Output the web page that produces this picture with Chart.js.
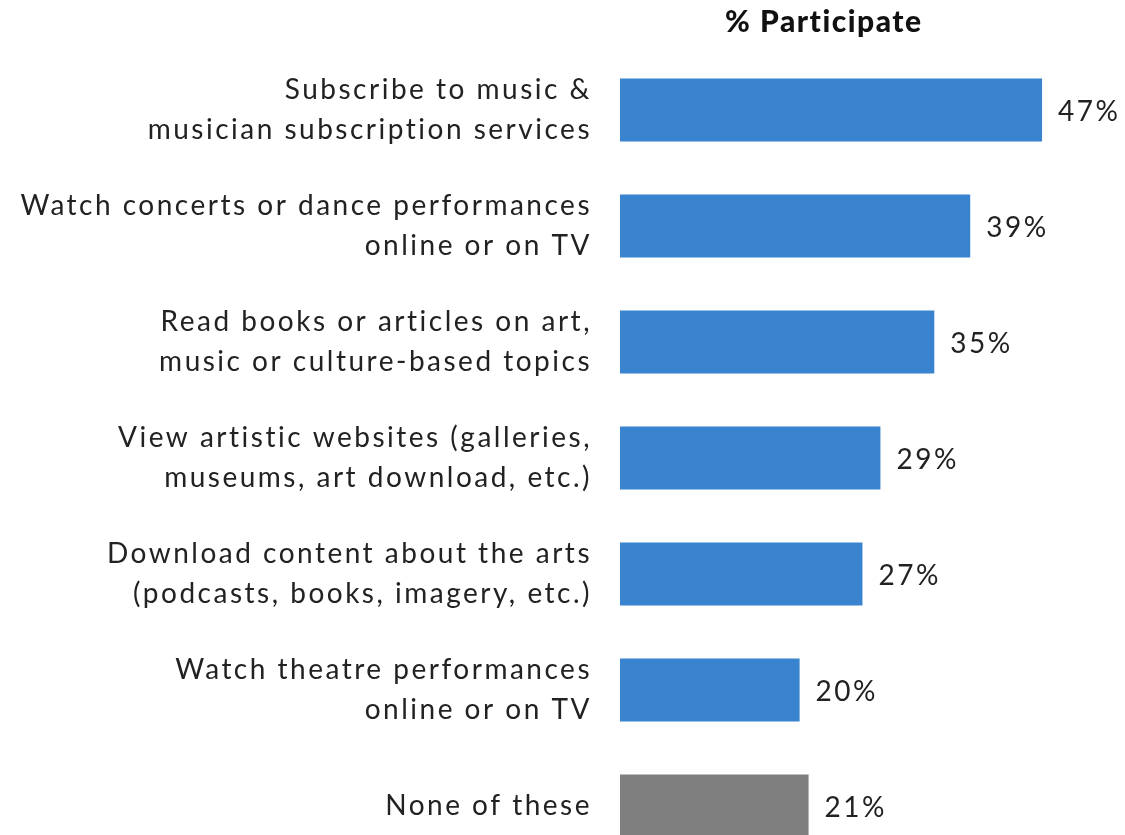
<!DOCTYPE html>
<html>
<head>
<meta charset="utf-8">
<script src="https://cdn.jsdelivr.net/npm/chart.js@4.4.0/dist/chart.umd.min.js"></script>
<style>
  html, body { margin: 0; padding: 0; background: #fff; overflow: hidden; }
  #wrap { width: 1125px; height: 864px; position: relative; }
</style>
</head>
<body>
<div id="wrap"><canvas id="chart"></canvas></div>
<script>
const categories = [
    ['Subscribe to music &', 'musician subscription services'],
    ['Watch concerts or dance performances', 'online or on TV'],
    ['Read books or articles on art,', 'music or culture-based topics'],
    ['View artistic websites (galleries,', 'museums, art download, etc.)'],
    ['Download content about the arts', '(podcasts, books, imagery, etc.)'],
    ['Watch theatre performances', 'online or on TV'],
    'None of these'
];
const participate = [47, 39, 35, 29, 27, 20, 21];
const barColors = ['#3983cf', '#3983cf', '#3983cf', '#3983cf', '#3983cf', '#3983cf', '#7f7f7f'];
const titleText = '% Participate';

const FONT = 'Lato, "Open Sans", sans-serif';
const SPACING = '2.5px';

// the canvas state is reset on resize, so reapply the wider tracking before each draw
const tracking = {
    id: 'tracking',
    beforeDraw(chart) {
        chart.ctx.letterSpacing = SPACING;
    }
};

// value labels to the right of each bar, plus the column header
const barLabels = {
    id: 'barLabels',
    afterDatasetsDraw(chart) {
        const ctx = chart.ctx;
        const meta = chart.getDatasetMeta(0);
        ctx.save();
        ctx.letterSpacing = SPACING;
        ctx.font = '28px ' + FONT;
        ctx.fillStyle = '#222';
        ctx.textAlign = 'left';
        ctx.textBaseline = 'middle';
        meta.data.forEach((bar, i) => {
            ctx.fillText(participate[i] + '%', bar.x + 16, bar.y + 2);
        });
        ctx.letterSpacing = '1.5px';
        ctx.font = '900 30px ' + FONT;
        ctx.fillStyle = '#111';
        ctx.textAlign = 'center';
        ctx.fillText(titleText, chart.scales.x.getPixelForValue(22.7), 22);
        ctx.restore();
    }
};

new Chart(document.getElementById('chart'), {
    type: 'bar',
    data: {
        labels: categories,
        datasets: [{
            data: participate,
            backgroundColor: barColors,
            borderWidth: 0,
            categoryPercentage: 1,
            barPercentage: 0.543
        }]
    },
    options: {
        indexAxis: 'y',
        responsive: true,
        maintainAspectRatio: false,
        animation: false,
        layout: { padding: { top: 52, right: 56, bottom: 0, left: 0 } },
        plugins: {
            legend: { display: false },
            title: { display: false },
            tooltip: { enabled: false }
        },
        scales: {
            x: {
                display: false,
                min: 0,
                max: 50
            },
            y: {
                afterFit(scale) {
                    scale.width = 620;
                    scale.paddingTop = 0;
                    scale.paddingBottom = 0;
                },
                grid: { display: false, drawTicks: false },
                border: { display: false },
                ticks: {
                    padding: 28,
                    color: '#222',
                    font: { family: FONT, size: 28, lineHeight: 1.4 }
                }
            }
        }
    },
    plugins: [tracking, barLabels]
});
</script>
</body>
</html>
